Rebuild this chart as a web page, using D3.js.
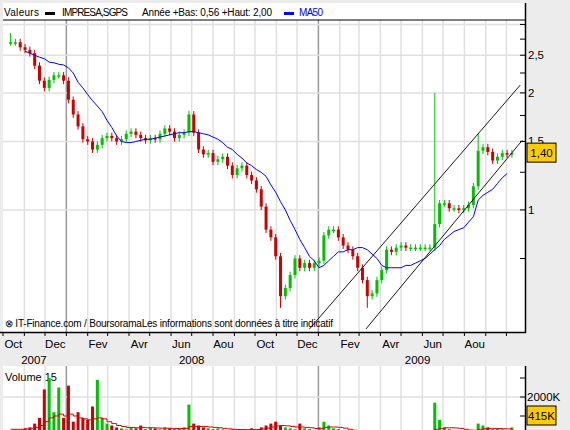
<!DOCTYPE html>
<html><head><meta charset="utf-8">
<script src="https://cdn.jsdelivr.net/npm/d3@7"></script>
<style>body{margin:0;background:#ececec}svg{display:block;font-family:"Liberation Sans",Arial,sans-serif}</style>
</head><body><svg id="c" width="570" height="430"></svg>
<script>
// weekly closes, Oct 2007 .. Sep 2009
const startDate = "2007-10-08";
const closes = [2.70,2.70,2.62,2.58,2.53,2.35,2.15,2.06,2.16,2.22,2.22,2.15,1.92,1.76,1.64,1.52,1.50,1.43,1.47,1.53,
1.55,1.53,1.50,1.52,1.57,1.59,1.56,1.53,1.51,1.53,1.52,1.57,1.62,1.59,1.53,1.56,1.58,1.76,1.58,1.43,
1.39,1.40,1.33,1.35,1.37,1.30,1.23,1.28,1.30,1.23,1.19,1.13,1.02,0.89,0.85,0.76,0.60,0.63,0.68,0.75,
0.71,0.73,0.71,0.73,0.74,0.86,0.89,0.89,0.85,0.81,0.79,0.76,0.71,0.66,0.60,0.61,0.66,0.70,0.79,0.78,
0.80,0.81,0.80,0.80,0.80,0.80,0.80,0.80,0.92,1.04,1.04,1.01,1.01,1.00,1.01,1.03,1.15,1.42,1.45,1.41,
1.34,1.37,1.40,1.39,1.40];
const highs = {0:2.85,37:1.80,56:0.56,74:0.56,88:2.00,97:1.57};
const ma50 = [null,null,null,2.56,2.53,2.50,2.47,2.45,2.40,2.39,2.37,2.36,2.32,2.25,2.13,2.06,1.98,1.91,1.85,1.79,
1.70,1.63,1.55,1.50,1.49,1.49,1.50,1.51,1.52,1.52,1.53,1.54,1.55,1.56,1.57,1.58,1.58,1.59,1.59,1.58,
1.57,1.56,1.54,1.52,1.49,1.45,1.43,1.39,1.36,1.32,1.30,1.27,1.25,1.22,1.16,1.11,1.05,1.00,0.94,0.89,
0.84,0.80,0.76,0.74,0.71,0.72,0.74,0.76,0.78,0.78,0.79,0.79,0.80,0.80,0.79,0.77,0.75,0.72,0.71,0.71,
0.71,0.71,0.72,0.72,0.73,0.74,0.75,0.77,0.79,0.81,0.84,0.86,0.88,0.89,0.90,0.93,0.96,1.06,1.09,1.11,
1.13,1.17,1.21,1.24];
const volumes = [250,300,280,350,400,600,900,2400,3000,1200,2500,900,2600,700,1200,900,800,1500,2900,900,
600,500,400,350,300,400,350,500,300,400,350,300,400,350,300,350,400,1600,600,500,
400,350,300,350,300,250,300,250,300,250,350,300,400,500,600,700,500,400,350,300,
600,350,300,250,400,700,500,350,300,250,200,150,200,200,150,200,150,250,200,150,
150,200,200,250,200,150,150,200,1700,800,400,300,250,200,250,200,250,600,500,400,
300,350,300,250,400];
const volAvg = [300,300,300,320,350,400,500,700,900,1000,1100,1000,1100,1000,900,850,800,850,900,850,
700,600,500,450,400,400,380,400,380,380,370,360,360,350,340,340,350,450,450,450,
450,420,400,380,350,320,300,290,290,280,290,290,320,360,420,480,500,480,450,420,
420,400,380,340,350,400,420,420,400,360,300,250,220,200,190,180,170,180,180,170,
170,170,180,190,190,180,170,170,300,350,380,380,370,350,300,260,250,300,330,350,
350,340,330,320,320];
const channels = [
  {from:["2008-12-19",0.494], to:["2009-10-21",2.094]},
  {from:["2009-03-11",0.494], to:["2009-10-24",1.51]}
];
const priceTicks = [3,2.75,2.5,2.25,2,1.75,1.5,1.25,1,0.75];
const priceLabels = {2.5:"2,5",2:"2",1.5:"1,5",1:"1"};
const gridPrices = [3,2.5,2,1.5,1];
const monthNames = ["Jan","Fev","Mar","Avr","Mai","Jun","Jul","Aou","Sep","Oct","Nov","Dec"];
const lastPrice = "1,40", lastVol = "415K";

const svg = d3.select("#c");
const parse = d3.utcParse("%Y-%m-%d");
const dates = d3.utcMonday.range(parse(startDate), d3.utcDay.offset(parse(startDate), 7*closes.length), 1).slice(0, closes.length).map(d=>d3.utcDay.offset(d,4));
const x = d3.scaleUtc().domain([parse("2007-10-01"), parse("2009-10-28")]).range([3,525]);
const y = d3.scaleLog().domain([0.494,3.08]).range([329,20]);
const yv = d3.scaleLinear().domain([0,3000]).range([435,378]);
const green="#00c000", red="#cc0000";

// panels
svg.append("rect").attr("x",3).attr("y",3).attr("width",522).attr("height",329).attr("fill","#fff");
svg.append("rect").attr("x",3).attr("y",366).attr("width",522).attr("height",70).attr("fill","#fff");
const months = d3.utcMonth.range(parse("2007-11-01"), parse("2009-10-28"));
months.forEach(m=>{
  const jan = m.getUTCMonth()===0;
  [[20,332],[366,432]].forEach(([a,b])=>svg.append("line").attr("x1",x(m)).attr("x2",x(m)).attr("y1",a).attr("y2",b)
    .attr("stroke",jan?"#999":"#e0e0e0").attr("stroke-width",1.5));
});
gridPrices.forEach(p=>svg.append("line").attr("x1",3).attr("x2",525).attr("y1",y(p)).attr("y2",y(p)).attr("stroke","#e0e0e0").attr("stroke-width",1.5));
svg.append("line").attr("x1",3).attr("x2",525).attr("y1",yv(2000)).attr("y2",yv(2000)).attr("stroke","#e0e0e0").attr("stroke-width",1.5);

// legend
svg.append("line").attr("x1",3).attr("x2",525).attr("y1",20).attr("y2",20).attr("stroke","#000");
const lg = svg.append("g").attr("font-size",10);
lg.append("text").attr("x",4).attr("y",16).attr("textLength",35).text("Valeurs");
lg.append("rect").attr("x",45).attr("y",12).attr("width",10).attr("height",3);
lg.append("text").attr("x",62).attr("y",16).attr("textLength",66).text("IMPRESA,SGPS");
lg.append("text").attr("x",142).attr("y",16).attr("textLength",130).text("Année +Bas: 0,56 +Haut: 2,00");
lg.append("rect").attr("x",284).attr("y",12).attr("width",10).attr("height",3).attr("fill","#00f");
lg.append("text").attr("x",299).attr("y",16).attr("fill","#00f").attr("textLength",24).text("MA50");

// candles
const bw = 3;
closes.forEach((c,i)=>{
  const o = i>0?closes[i-1]:c;
  const hi = highs[i]&&highs[i]>Math.max(o,c)?highs[i]:Math.max(o,c)*1.02;
  const lo = highs[i]&&highs[i]<Math.min(o,c)?highs[i]:Math.min(o,c)*0.98;
  const col = c>=o?green:red, cx = x(dates[i]);
  svg.append("line").attr("x1",cx).attr("x2",cx).attr("y1",y(hi)).attr("y2",y(lo)).attr("stroke",col).attr("stroke-width",1);
  svg.append("rect").attr("x",cx-bw/2).attr("width",bw).attr("y",y(Math.max(o,c))).attr("height",Math.max(1.5,y(Math.min(o,c))-y(Math.max(o,c)))).attr("fill",col);
});
// MA50
svg.append("path").datum(ma50.map((v,i)=>[dates[i],v]).filter(d=>d[1]!=null))
  .attr("d",d3.line().x(d=>x(d[0])).y(d=>y(d[1]))).attr("fill","none").attr("stroke","#0000ff").attr("stroke-width",1);
// channels
channels.forEach(c=>svg.append("line").attr("x1",x(parse(c.from[0]))).attr("y1",y(c.from[1])).attr("x2",x(parse(c.to[0]))).attr("y2",y(c.to[1])).attr("stroke","#000").attr("stroke-width",0.9));

svg.append("text").attr("x",5).attr("y",327).attr("font-size",10).attr("textLength",328).text("⊗ IT-Finance.com / BoursoramaLes informations sont données à titre indicatif");

// axes
svg.append("line").attr("x1",525.5).attr("x2",525.5).attr("y1",3).attr("y2",333).attr("stroke","#000").attr("stroke-width",1.5);
svg.append("line").attr("x1",0).attr("x2",526).attr("y1",332.5).attr("y2",332.5).attr("stroke","#000").attr("stroke-width",1.5);
svg.append("line").attr("x1",525.5).attr("x2",525.5).attr("y1",366).attr("y2",430).attr("stroke","#000").attr("stroke-width",1.5);
priceTicks.forEach(p=>{
  svg.append("line").attr("x1",520).attr("x2",525).attr("y1",y(p)).attr("y2",y(p)).attr("stroke","#000");
  if(priceLabels[p]) svg.append("text").attr("x",528).attr("y",y(p)+4).attr("font-size",11.5).text(priceLabels[p]);
});
[1000,2000,3000].forEach(v=>svg.append("line").attr("x1",520).attr("x2",525).attr("y1",yv(v)).attr("y2",yv(v)).attr("stroke","#000"));
svg.append("text").attr("x",527).attr("y",yv(2000)+4).attr("font-size",11.5).text("2000K");
const mt = d3.utcMonth.range(parse("2007-10-01"), parse("2009-10-28"));
mt.forEach(m=>{
  svg.append("line").attr("x1",x(m)).attr("x2",x(m)).attr("y1",332).attr("y2",336).attr("stroke","#000");
  if(m.getUTCMonth()%2===1 && m < parse("2009-09-01")) svg.append("text").attr("x",x(d3.utcDay.offset(m,15))).attr("y",348).attr("text-anchor","middle").attr("font-size",11.5).text(monthNames[m.getUTCMonth()]);
});
[["2007","2007-11-15"],["2008","2008-07-01"],["2009","2009-05-25"]].forEach(([t,d])=>
  svg.append("text").attr("x",x(parse(d))).attr("y",364).attr("text-anchor","middle").attr("font-size",11.5).text(t));

// current price box
svg.append("rect").attr("x",527).attr("y",y(1.40)-10).attr("width",29).attr("height",19).attr("fill","#ffcc00").attr("stroke","#000");
svg.append("text").attr("x",541.5).attr("y",y(1.40)+4).attr("text-anchor","middle").attr("font-size",11.5).text(lastPrice);

// volume
svg.append("text").attr("x",5).attr("y",381).attr("font-size",11).text("Volume 15");
volumes.forEach((v,i)=>{
  const o = i>0?closes[i-1]:closes[i];
  svg.append("rect").attr("x",x(dates[i])-1.5).attr("width",3).attr("y",yv(v)).attr("height",yv(0)-yv(v)).attr("fill",closes[i]>=o?green:red);
});
svg.append("path").datum(volAvg.map((v,i)=>[dates[i],v]))
  .attr("d",d3.line().curve(d3.curveStepAfter).x(d=>x(d[0])).y(d=>yv(d[1]))).attr("fill","none").attr("stroke","#d00").attr("stroke-width",1);
svg.append("rect").attr("x",527).attr("y",406).attr("width",29).attr("height",19).attr("fill","#ffcc00").attr("stroke","#000");
svg.append("text").attr("x",541.5).attr("y",420).attr("text-anchor","middle").attr("font-size",11.5).text(lastVol);
</script></body></html>
